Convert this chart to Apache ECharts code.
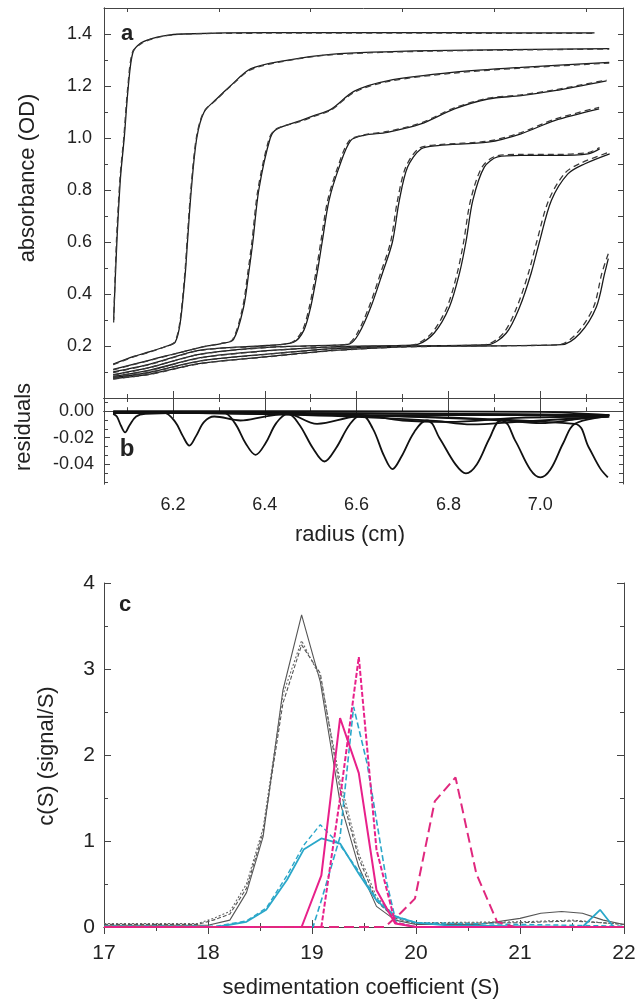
<!DOCTYPE html>
<html><head><meta charset="utf-8">
<script src="https://cdn.jsdelivr.net/npm/echarts@6/dist/echarts.min.js"></script>
<style>html,body{margin:0;padding:0;background:#fff}#c{width:644px;height:1002px}</style>
</head><body><div id="c"></div>
<script>
// ---------- Panel a: absorbance scans (solid = data, dashed = fit) ----------
const scan1 = [[6.071,0.30],[6.078,0.60],[6.086,0.85],[6.094,1.0],[6.103,1.2],[6.113,1.33],[6.13,1.365],[6.15,1.38],[6.18,1.393],[6.223,1.40],[6.4,1.405],[6.8,1.405],[7.118,1.404]];
const scan2 = [[6.07,0.13],[6.113,0.159],[6.15,0.178],[6.187,0.20],[6.205,0.215],[6.216,0.29],[6.227,0.48],[6.232,0.607],[6.24,0.8],[6.252,1.0],[6.268,1.1],[6.295,1.15],[6.325,1.2],[6.369,1.266],[6.441,1.297],[6.544,1.322],[6.76,1.336],[7.15,1.344]];
const scan3 = [[6.07,0.11],[6.15,0.146],[6.26,0.195],[6.307,0.21],[6.332,0.225],[6.354,0.35],[6.365,0.48],[6.374,0.6],[6.387,0.8],[6.412,1.0],[6.427,1.035],[6.478,1.067],[6.507,1.086],[6.544,1.11],[6.595,1.18],[6.667,1.22],[6.813,1.253],[6.959,1.272],[7.15,1.291]];
const scan4 = [[6.07,0.10],[6.15,0.13],[6.26,0.184],[6.405,0.202],[6.463,0.215],[6.485,0.26],[6.50,0.35],[6.514,0.48],[6.525,0.6],[6.54,0.76],[6.562,0.888],[6.587,0.99],[6.616,1.01],[6.667,1.022],[6.74,1.054],[6.813,1.112],[6.886,1.15],[6.958,1.163],[7.031,1.182],[7.144,1.22]];
const scan5 = [[6.07,0.09],[6.15,0.118],[6.26,0.169],[6.405,0.195],[6.55,0.203],[6.585,0.208],[6.605,0.248],[6.631,0.35],[6.656,0.479],[6.678,0.6],[6.693,0.76],[6.711,0.888],[6.74,0.958],[6.777,0.971],[6.886,0.984],[6.958,1.016],[7.031,1.067],[7.128,1.112]];
const scan6 = [[6.07,0.083],[6.15,0.107],[6.26,0.155],[6.405,0.182],[6.55,0.197],[6.7,0.202],[6.733,0.206],[6.769,0.25],[6.802,0.35],[6.824,0.48],[6.838,0.6],[6.853,0.76],[6.878,0.888],[6.907,0.927],[6.958,0.933],[7.031,0.933],[7.104,0.939],[7.129,0.958]];
const scan7 = [[6.07,0.078],[6.15,0.099],[6.26,0.143],[6.405,0.169],[6.55,0.19],[6.7,0.2],[6.886,0.205],[6.926,0.25],[6.955,0.35],[6.98,0.48],[6.998,0.6],[7.024,0.76],[7.06,0.862],[7.096,0.90],[7.151,0.939]];
const scan8 = [[6.07,0.074],[6.15,0.092],[6.26,0.133],[6.405,0.159],[6.55,0.183],[6.7,0.197],[6.85,0.2],[7.046,0.205],[7.086,0.248],[7.122,0.35],[7.14,0.479],[7.148,0.536]];

const fit1 = [[6.071,0.29],[6.077,0.60],[6.085,0.85],[6.093,1.0],[6.102,1.2],[6.112,1.33],[6.13,1.362],[6.15,1.378],[6.18,1.392],[6.223,1.40],[6.4,1.403],[6.8,1.403],[7.118,1.402]];
const fit2 = [[6.07,0.128],[6.113,0.157],[6.15,0.177],[6.187,0.20],[6.204,0.215],[6.215,0.29],[6.226,0.48],[6.231,0.607],[6.239,0.8],[6.251,1.0],[6.267,1.1],[6.295,1.148],[6.325,1.198],[6.369,1.262],[6.441,1.295],[6.544,1.32],[6.76,1.334],[7.15,1.342]];
const fit3 = [[6.07,0.108],[6.15,0.145],[6.26,0.194],[6.305,0.21],[6.33,0.225],[6.352,0.35],[6.363,0.48],[6.372,0.6],[6.385,0.8],[6.41,1.0],[6.425,1.035],[6.478,1.064],[6.507,1.083],[6.544,1.107],[6.595,1.176],[6.667,1.217],[6.813,1.25],[6.959,1.269],[7.15,1.288]];
const fit4 = [[6.07,0.098],[6.15,0.129],[6.26,0.183],[6.405,0.201],[6.46,0.215],[6.482,0.26],[6.497,0.35],[6.511,0.48],[6.522,0.6],[6.537,0.76],[6.559,0.888],[6.584,0.99],[6.616,1.012],[6.667,1.025],[6.74,1.058],[6.813,1.116],[6.886,1.153],[6.958,1.166],[7.031,1.185],[7.144,1.223]];
const fit5 = [[6.07,0.088],[6.15,0.117],[6.26,0.168],[6.405,0.194],[6.55,0.202],[6.581,0.208],[6.601,0.248],[6.627,0.35],[6.652,0.479],[6.674,0.6],[6.689,0.76],[6.707,0.888],[6.736,0.96],[6.777,0.974],[6.886,0.988],[6.958,1.021],[7.031,1.072],[7.128,1.118]];
const fit6 = [[6.07,0.082],[6.15,0.106],[6.26,0.154],[6.405,0.181],[6.55,0.196],[6.7,0.201],[6.728,0.206],[6.764,0.25],[6.797,0.35],[6.819,0.48],[6.833,0.6],[6.848,0.76],[6.873,0.888],[6.903,0.93],[6.958,0.937],[7.031,0.937],[7.104,0.944],[7.129,0.963]];
const fit7 = [[6.07,0.077],[6.15,0.098],[6.26,0.142],[6.405,0.168],[6.55,0.189],[6.7,0.199],[6.88,0.205],[6.92,0.25],[6.949,0.35],[6.974,0.48],[6.992,0.6],[7.018,0.76],[7.054,0.866],[7.09,0.905],[7.151,0.946]];
const fit8 = [[6.07,0.073],[6.15,0.091],[6.26,0.132],[6.405,0.158],[6.55,0.182],[6.7,0.196],[6.85,0.2],[7.04,0.205],[7.08,0.25],[7.116,0.35],[7.134,0.48],[7.148,0.555]];

// ---------- Panel b: residuals ----------
const res1 = [[6.07,0.0],[6.5,0.0],[7.0,-0.0005],[7.15,-0.003]];
const res2 = [[6.07,-0.002],[6.078,-0.004],[6.087,-0.011],[6.096,-0.016],[6.105,-0.011],[6.12,-0.004],[6.14,-0.002],[6.3,-0.001],[7.15,-0.003]];
const res3 = [[6.07,-0.001],[6.18,-0.001],[6.205,-0.008],[6.222,-0.019],[6.236,-0.026],[6.25,-0.019],[6.268,-0.008],[6.29,-0.004],[6.347,-0.007],[6.4,-0.004],[6.45,-0.002],[6.7,-0.002],[7.15,-0.003]];
const res4 = [[6.07,-0.001],[6.31,-0.001],[6.335,-0.009],[6.358,-0.024],[6.38,-0.033],[6.402,-0.024],[6.425,-0.009],[6.45,-0.002],[6.514,-0.0095],[6.6,-0.004],[6.75,-0.003],[7.15,-0.003]];
const res5 = [[6.07,-0.001],[6.45,-0.002],[6.475,-0.01],[6.505,-0.028],[6.53,-0.038],[6.555,-0.028],[6.585,-0.01],[6.61,-0.003],[6.7,-0.007],[6.8,-0.008],[6.95,-0.005],[7.15,-0.004]];
const res6 = [[6.07,-0.001],[6.61,-0.003],[6.635,-0.013],[6.66,-0.034],[6.678,-0.0437],[6.698,-0.034],[6.725,-0.016],[6.753,-0.007],[6.85,-0.01],[6.95,-0.008],[7.15,-0.004]];
const res7 = [[6.07,-0.001],[6.753,-0.007],[6.78,-0.02],[6.815,-0.04],[6.838,-0.047],[6.862,-0.04],[6.89,-0.02],[6.915,-0.007],[7.0,-0.009],[7.08,-0.006],[7.15,-0.003]];
const res8 = [[6.07,-0.001],[6.915,-0.007],[6.945,-0.022],[6.978,-0.044],[7.0,-0.050],[7.022,-0.044],[7.05,-0.024],[7.075,-0.0095],[7.147,-0.004]];
const res9 = [[6.07,-0.001],[7.075,-0.0095],[7.105,-0.027],[7.13,-0.043],[7.147,-0.050]];

// ---------- Panel c: c(S) distributions ----------
const grayA = [[17,0.02],[18.0,0.02],[18.21,0.08],[18.37,0.4],[18.53,1.05],[18.72,2.75],[18.9,3.63],[19.08,2.85],[19.27,1.45],[19.45,0.7],[19.62,0.24],[19.8,0.08],[20.0,0.03],[20.6,0.03],[21.0,0.1],[21.2,0.16],[21.4,0.18],[21.6,0.16],[21.8,0.08],[22,0.03]];
const grayB = [[17,0.03],[17.9,0.03],[18.05,0.08],[18.21,0.15],[18.37,0.45],[18.53,1.1],[18.72,2.6],[18.9,3.28],[19.08,2.95],[19.27,1.6],[19.45,0.8],[19.62,0.3],[19.8,0.1],[20.0,0.04],[21.0,0.05],[21.5,0.07],[21.9,0.04],[22,0.03]];
const grayC = [[17,0.04],[17.9,0.04],[18.05,0.1],[18.21,0.18],[18.37,0.5],[18.53,1.15],[18.72,2.7],[18.9,3.33],[19.08,2.9],[19.27,1.7],[19.45,0.85],[19.62,0.35],[19.8,0.12],[20.0,0.05],[21.0,0.06],[21.5,0.08],[22,0.03]];
const cyanSolid = [[17,0.0],[18.08,0.0],[18.37,0.06],[18.56,0.2],[18.76,0.55],[18.92,0.9],[19.09,1.03],[19.27,0.97],[19.45,0.62],[19.62,0.31],[19.8,0.12],[20.0,0.05],[20.3,0.02],[21.6,0.0],[21.77,0.2],[21.9,0.0],[22,0.0]];
const cyanDash1 = [[17,0.01],[18.08,0.01],[18.37,0.07],[18.56,0.22],[18.76,0.6],[18.92,0.95],[19.08,1.19],[19.27,0.95],[19.45,0.65],[19.62,0.33],[19.8,0.13],[20.0,0.05],[22,0.01]];
const cyanDash2 = [[17,0.0],[19.01,0.0],[19.1,0.35],[19.27,1.05],[19.4,2.56],[19.53,1.9],[19.72,0.51],[19.81,0.05],[20.0,0.0],[22,0.0]];
const magSolid = [[17,0],[18.9,0],[19.09,0.6],[19.27,2.43],[19.45,1.79],[19.62,0.43],[19.8,0.04],[20.0,0],[22,0]];
const magDash = [[17,0],[19.09,0],[19.27,1.5],[19.45,3.14],[19.62,0.9],[19.8,0.05],[20.0,0],[22,0]];
const magLong = [[17,0],[19.7,0],[19.85,0.16],[19.99,0.33],[20.18,1.46],[20.38,1.74],[20.58,0.62],[20.78,0.06],[20.95,0],[22,0]];

// ---------- Tick values ----------
const radiusLabels = [6.2, 6.4, 6.6, 6.8, 7.0];
const radiusMinor = [6.1, 6.3, 6.5, 6.7, 6.9, 7.1];
const absLabels = [0.2, 0.4, 0.6, 0.8, 1.0, 1.2, 1.4];
const absMinor = [0.1, 0.3, 0.5, 0.7, 0.9, 1.1, 1.3];
const absAll = [0.1,0.2,0.3,0.4,0.5,0.6,0.7,0.8,0.9,1.0,1.1,1.2,1.3,1.4];
const resLabels = [-0.04, -0.02, 0.0];
const resMinor = [-0.0533, -0.0467, -0.0333, -0.0267, -0.0133, -0.0067, 0.0067];
const resAll = [-0.0533,-0.0467,-0.04,-0.0333,-0.0267,-0.02,-0.0133,-0.0067,0.0,0.0067];

const FONT = '"Liberation Sans", Arial, Helvetica, sans-serif';
const TXT = '#222';
const AX = '#444';

function xA(grid, pos, vals, len, labels, min, max) {
  return {
    type: 'value', gridIndex: grid, position: pos, min: min, max: max,
    axisLine: { show: true, lineStyle: { color: AX, width: 1 } },
    axisTick: { show: true, inside: true, length: len, customValues: vals, lineStyle: { color: AX } },
    axisLabel: labels ? { show: true, customValues: labels, formatter: v => v.toFixed(1), fontFamily: FONT, fontSize: 18, color: TXT, margin: 12 } : { show: false },
    splitLine: { show: false }
  };
}
function yA(grid, pos, vals, len, labels, min, max, fmt, fs, mg) {
  return {
    type: 'value', gridIndex: grid, position: pos, min: min, max: max,
    axisLine: { show: true, lineStyle: { color: AX, width: 1 } },
    axisTick: { show: true, inside: true, length: len, customValues: vals, lineStyle: { color: AX } },
    axisLabel: labels ? { show: true, customValues: labels, formatter: fmt, fontFamily: FONT, fontSize: fs, color: TXT, margin: mg } : { show: false },
    splitLine: { show: false }
  };
}

const xAxis = [
  xA(0, 'bottom', radiusLabels, 7, null, 6.05, 7.18),
  xA(0, 'top', radiusLabels, 7, null, 6.05, 7.18),
  xA(0, 'bottom', radiusMinor, 4, null, 6.05, 7.18),
  xA(0, 'top', radiusMinor, 4, null, 6.05, 7.18),
  xA(1, 'bottom', radiusLabels, 7, radiusLabels, 6.05, 7.18),
  xA(1, 'bottom', radiusMinor, 4, null, 6.05, 7.18),
  xA(1, 'top', radiusLabels, 7, null, 6.05, 7.18),
  xA(1, 'top', radiusMinor, 4, null, 6.05, 7.18),
  { type: 'value', gridIndex: 2, position: 'bottom', min: 17, max: 22, interval: 1,
    axisLine: { show: true, lineStyle: { color: AX } },
    axisTick: { show: true, inside: true, length: 7, lineStyle: { color: AX } },
    minorTick: { show: true, splitNumber: 2, length: 4, lineStyle: { color: AX } },
    axisLabel: { fontFamily: FONT, fontSize: 21, color: TXT, margin: 16 },
    splitLine: { show: false }, minorSplitLine: { show: false } },
  { type: 'value', gridIndex: 2, position: 'top', min: 17, max: 22, interval: 1,
    axisLine: { show: true, lineStyle: { color: AX } },
    axisTick: { show: true, inside: true, length: 7, lineStyle: { color: AX } },
    minorTick: { show: true, splitNumber: 2, length: 4, lineStyle: { color: AX } },
    axisLabel: { show: false }, splitLine: { show: false } }
];

const yAxis = [
  yA(0, 'left', absLabels, 7, absLabels, 0, 1.5, v => v.toFixed(1), 18, 12),
  yA(0, 'left', absMinor, 4, null, 0, 1.5),
  yA(0, 'right', absAll, 5, null, 0, 1.5),
  yA(1, 'left', resLabels, 6, resLabels, -0.055, 0.01, v => v.toFixed(2), 18, 10),
  yA(1, 'left', resMinor, 4, null, -0.055, 0.01),
  yA(1, 'right', resAll, 4, null, -0.055, 0.01),
  { type: 'value', gridIndex: 2, position: 'left', min: 0, max: 4, interval: 1,
    axisLine: { show: true, lineStyle: { color: AX } },
    axisTick: { show: true, inside: true, length: 7, lineStyle: { color: AX } },
    minorTick: { show: true, splitNumber: 2, length: 4, lineStyle: { color: AX } },
    axisLabel: { fontFamily: FONT, fontSize: 21, color: TXT, margin: 9 },
    splitLine: { show: false } },
  { type: 'value', gridIndex: 2, position: 'right', min: 0, max: 4, interval: 1,
    axisLine: { show: true, lineStyle: { color: AX } },
    axisTick: { show: true, inside: true, length: 7, lineStyle: { color: AX } },
    minorTick: { show: true, splitNumber: 2, length: 4, lineStyle: { color: AX } },
    axisLabel: { show: false }, splitLine: { show: false } }
];

const series = [];
function ln(data, xi, yi, color, width, type, smooth, z) {
  series.push({ type: 'line', data: data, xAxisIndex: xi, yAxisIndex: yi, showSymbol: false, symbol: 'none',
    smooth: smooth, z: z || 2,
    lineStyle: { color: color, width: width, type: type } });
}
[scan1, scan2, scan3, scan4, scan5, scan6, scan7, scan8].forEach(s => ln(s, 0, 0, '#1a1a1a', 1.3, 'solid', 0.3, 2));
[fit1, fit2, fit3, fit4, fit5, fit6, fit7, fit8].forEach(s => ln(s, 0, 0, '#3a3a3a', 1.3, [6, 4], 0.3, 3));
[res1, res2, res3, res4, res5, res6, res7, res8, res9].forEach(s => ln(s, 4, 3, '#111', 1.8, 'solid', 0.35, 2));

ln(grayA, 8, 6, '#555', 1.1, 'solid', false, 2);
ln(grayB, 8, 6, '#555', 1.1, [4, 2], false, 2);
ln(grayC, 8, 6, '#666', 1.1, [2, 2], false, 2);
ln(cyanSolid, 8, 6, '#2aa7c9', 1.8, 'solid', false, 3);
ln(cyanDash1, 8, 6, '#2aa7c9', 1.4, [5, 3], false, 3);
ln(cyanDash2, 8, 6, '#2aa7c9', 1.6, [6, 3], false, 3);
ln(magSolid, 8, 6, '#e8208a', 2, 'solid', false, 4);
ln(magDash, 8, 6, '#e8208a', 2, [5, 2], false, 4);
ln(magLong, 8, 6, '#e0287e', 2, [10, 5], false, 4);

function txt(text, x, y, size, rot, bold) {
  return { type: 'text', x: x, y: y, rotation: rot || 0, z: 10,
    style: { text: text, fontFamily: FONT, fontSize: size, fontWeight: bold ? 'bold' : 'normal', fill: TXT,
      textAlign: 'center', textVerticalAlign: 'middle' } };
}

const option = {
  animation: false,
  backgroundColor: '#fff',
  grid: [
    { left: 104, top: 8, width: 519, height: 390 },
    { left: 104, top: 398, width: 519, height: 86 },
    { left: 104, top: 583, width: 520, height: 344 }
  ],
  xAxis: xAxis, yAxis: yAxis, series: series,
  graphic: [
    txt('a', 127, 34, 22, 0, true),
    txt('b', 127, 449, 24, 0, true),
    txt('c', 125, 605, 22, 0, true),
    txt('absorbance (OD)', 28, 178, 22, Math.PI / 2),
    txt('residuals', 24, 427, 22, Math.PI / 2),
    txt('c(S) (signal/S)', 47, 756, 22, Math.PI / 2),
    txt('radius (cm)', 350, 535, 22),
    txt('sedimentation coefficient (S)', 361, 988, 22)
  ]
};
const chart = echarts.init(document.getElementById('c'), null, { renderer: 'canvas' });
chart.setOption(option);
</script></body></html>
